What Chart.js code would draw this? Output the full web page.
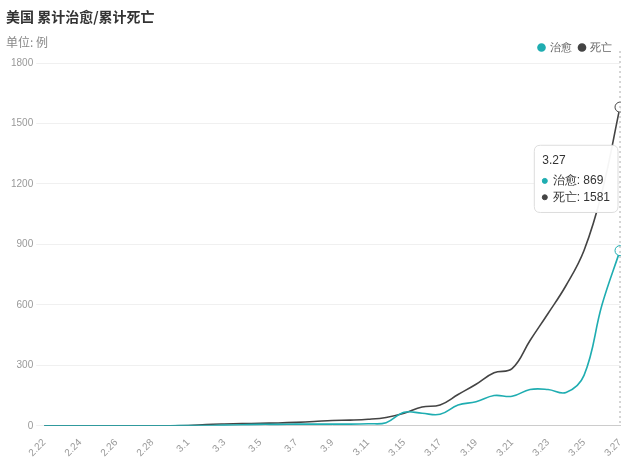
<!DOCTYPE html><html><head><meta charset="utf-8">
<script src="https://cdn.jsdelivr.net/npm/chart.js@4/dist/chart.umd.min.js"></script>
<style>body{margin:0;background:#fff;font-family:"Noto Sans CJK SC",sans-serif}#w{position:relative;width:640px;height:464px}
#t{position:absolute;left:6px;top:6px;font-size:14px;font-weight:bold;color:#333}#u{position:absolute;left:6px;top:33px;font-size:12px;color:#888}</style></head><body>
<div id="w"><div id="t">美国 累计治愈/累计死亡</div><div id="u">单位: 例</div><canvas id="c" width="640" height="464"></canvas></div>
<script>
const categories=["2.22","2.23","2.24","2.25","2.26","2.27","2.28","2.29","3.1","3.2","3.3","3.4","3.5","3.6","3.7","3.8","3.9","3.10","3.11","3.13","3.15","3.16","3.17","3.18","3.19","3.20","3.21","3.22","3.23","3.24","3.25","3.26","3.27"];
const recovered=[0,0,0,0,0,0,0,0,1,1,3,5,7,7,8,8,8,8,10,15,67,62,57,103,119,150,146,180,180,165,250,600,869];
const deaths=[0,0,0,0,0,0,0,0,1,6,9,11,12,14,17,21,26,28,32,41,62,93,103,155,206,263,283,423,557,696,870,1160,1581];
const yTicks=[0,300,600,900,1200,1500,1800];
const teal="#1fadb1",dark="#444";
const vline={id:"v",afterDatasetsDraw(ch){const m=ch.getDatasetMeta(0).data;const p=m[m.length-1];const c=ch.ctx;c.save();c.setLineDash([2,3]);c.strokeStyle="#aaa";c.beginPath();c.moveTo(p.x,ch.chartArea.top-12);c.lineTo(p.x,ch.chartArea.bottom);c.stroke();c.restore();}};
const ch=new Chart(document.getElementById("c"),{type:"line",data:{labels:categories,datasets:[
{label:"治愈",data:recovered,borderColor:teal,backgroundColor:teal,borderWidth:1.6,tension:0.4,pointRadius:0,pointHoverRadius:5,pointHoverBackgroundColor:"#fff",pointHoverBorderColor:teal,pointHoverBorderWidth:1},
{label:"死亡",data:deaths,borderColor:dark,backgroundColor:dark,borderWidth:1.6,tension:0.4,pointRadius:0,pointHoverRadius:5,pointHoverBackgroundColor:"#fff",pointHoverBorderColor:dark,pointHoverBorderWidth:1}]},
options:{responsive:false,animation:false,layout:{padding:{left:8,right:20,top:34,bottom:2}},interaction:{mode:"index",intersect:false},
plugins:{legend:{position:"top",align:"end",labels:{usePointStyle:true,pointStyle:"circle",boxWidth:5,boxHeight:5,color:"#666",font:{size:11},padding:8}},
tooltip:{backgroundColor:"rgba(255,255,255,0.95)",borderColor:"#ddd",borderWidth:1,titleColor:"#333",bodyColor:"#333",titleFont:{size:12,weight:"normal"},bodyFont:{size:12},usePointStyle:true,boxWidth:5,boxHeight:5,padding:8,xAlign:"right",yAlign:"center",caretSize:0,
callbacks:{label:(c)=>" "+c.dataset.label+": "+c.raw,labelPointStyle:()=>({pointStyle:"circle",rotation:0}),labelColor:(c)=>({borderColor:c.dataset.borderColor,backgroundColor:c.dataset.borderColor})}}},
scales:{x:{grid:{display:false},border:{color:"#ccc"},ticks:{color:"#999",font:{size:10},maxRotation:45,minRotation:45,autoSkip:false,callback:(v,i)=>i%2===0?categories[i]:""}},
y:{min:0,max:1800,afterBuildTicks:(a)=>{a.ticks=yTicks.map(v=>({value:v}))},grid:{color:"#f0f0f0"},border:{display:false},ticks:{color:"#999",font:{size:10},callback:(v)=>String(v)}}}},plugins:[vline]});
const last=categories.length-1;
ch.setActiveElements([{datasetIndex:0,index:last},{datasetIndex:1,index:last}]);
ch.tooltip.setActiveElements([{datasetIndex:0,index:last},{datasetIndex:1,index:last}],{x:530,y:215});
ch.update();
</script></body></html>
